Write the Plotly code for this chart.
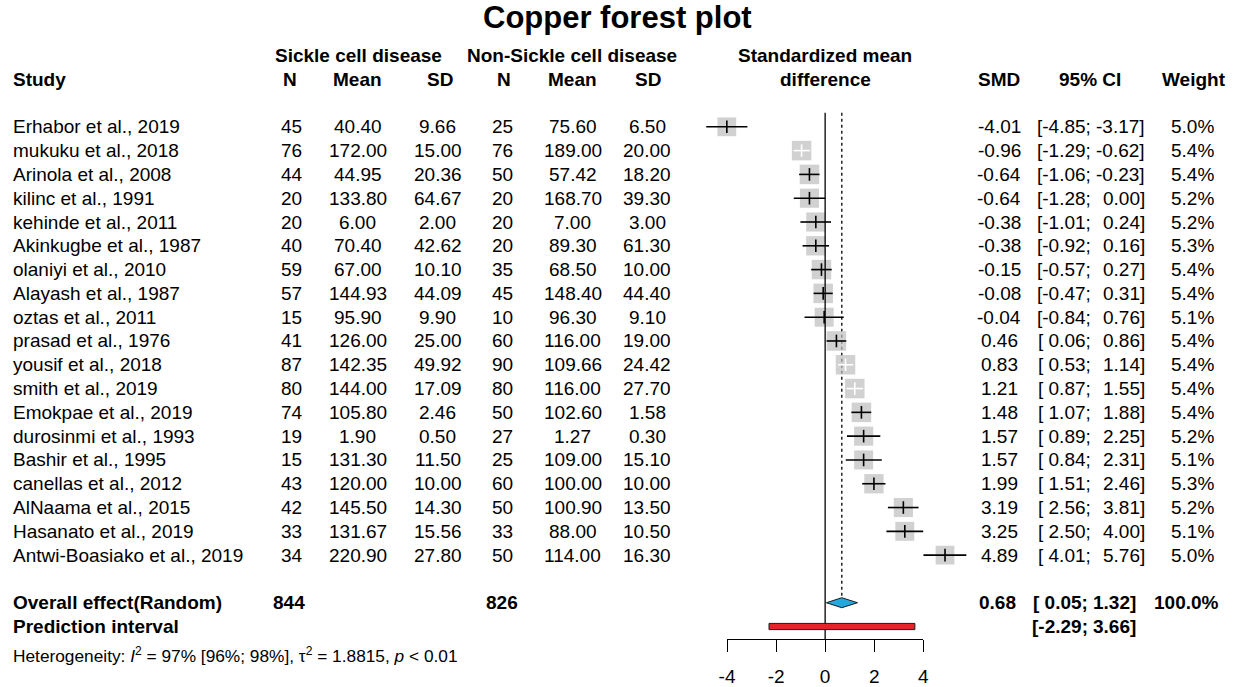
import plotly.graph_objects as go

# ---------------- data ----------------
studies = ["Erhabor et al., 2019", "mukuku et al., 2018", "Arinola et al., 2008", "kilinc et al., 1991",
           "kehinde et al., 2011", "Akinkugbe et al., 1987", "olaniyi et al., 2010", "Alayash et al., 1987",
           "oztas et al., 2011", "prasad et al., 1976", "yousif et al., 2018", "smith et al., 2019",
           "Emokpae et al., 2019", "durosinmi et al., 1993", "Bashir et al., 1995", "canellas et al., 2012",
           "AlNaama et al., 2015", "Hasanato et al., 2019", "Antwi-Boasiako et al., 2019"]
n_scd = [45, 76, 44, 20, 20, 40, 59, 57, 15, 41, 87, 80, 74, 19, 15, 43, 42, 33, 34]
mean_scd = [40.40, 172.00, 44.95, 133.80, 6.00, 70.40, 67.00, 144.93, 95.90, 126.00, 142.35, 144.00,
            105.80, 1.90, 131.30, 120.00, 145.50, 131.67, 220.90]
sd_scd = [9.66, 15.00, 20.36, 64.67, 2.00, 42.62, 10.10, 44.09, 9.90, 25.00, 49.92, 17.09, 2.46, 0.50,
          11.50, 10.00, 14.30, 15.56, 27.80]
n_ctl = [25, 76, 50, 20, 20, 20, 35, 45, 10, 60, 90, 80, 50, 27, 25, 60, 50, 33, 50]
mean_ctl = [75.60, 189.00, 57.42, 168.70, 7.00, 89.30, 68.50, 148.40, 96.30, 116.00, 109.66, 116.00,
            102.60, 1.27, 109.00, 100.00, 100.90, 88.00, 114.00]
sd_ctl = [6.50, 20.00, 18.20, 39.30, 3.00, 61.30, 10.00, 44.40, 9.10, 19.00, 24.42, 27.70, 1.58, 0.30,
          15.10, 10.00, 13.50, 10.50, 16.30]
smd = [-4.01, -0.96, -0.64, -0.64, -0.38, -0.38, -0.15, -0.08, -0.04, 0.46, 0.83, 1.21, 1.48, 1.57, 1.57,
       1.99, 3.19, 3.25, 4.89]
ci_low = [-4.85, -1.29, -1.06, -1.28, -1.01, -0.92, -0.57, -0.47, -0.84, 0.06, 0.53, 0.87, 1.07, 0.89,
          0.84, 1.51, 2.56, 2.50, 4.01]
ci_high = [-3.17, -0.62, -0.23, 0.00, 0.24, 0.16, 0.27, 0.31, 0.76, 0.86, 1.14, 1.55, 1.88, 2.25, 2.31,
           2.46, 3.81, 4.00, 5.76]
weight = [5.0, 5.4, 5.4, 5.2, 5.2, 5.3, 5.4, 5.4, 5.1, 5.4, 5.4, 5.4, 5.4, 5.2, 5.1, 5.3, 5.2, 5.1, 5.0]

total_scd = 844
total_ctl = 826
overall_smd = 0.68
overall_low = 0.05
overall_high = 1.32
overall_weight = 100.0
pred_low = -2.29
pred_high = 3.66
axis_ticks = [-4, -2, 0, 2, 4]
axis_ticktext = ["-4", "-2", "0", "2", "4"]

# ---------------- layout constants ----------------
W, H = 1235, 687
FONT = "Liberation Sans, Arial, sans-serif"
FS = 19
SCALE_FIX = 0.988            # horizontal compensation observed in the rendered page
CX = W / 2.0
ZERO_PX = 824.0              # target pixel of SMD = 0
UNIT_PX = 24.5               # target pixels per SMD unit
ROW0_PX = 127.0              # pixel position of first study row
ROW_PX = 23.83               # row spacing in pixels
LEFT_PX = 11                 # left edge of the study column


def px(t):
    """target pixel -> layout pixel"""
    return CX + (t - CX) / SCALE_FIX


def px2paper(t):
    return px(t) / W


X0 = px(ZERO_PX)
UNIT = UNIT_PX / SCALE_FIX

n = len(studies)
rows = list(range(n))
row_overall = n + 1
row_pred = n + 2
row_het = n + 3.2
row_sub = -2
row_grp = -3
row_title = -4.6
row_axis = (640 - ROW0_PX) / ROW_PX


def fmt_num(v):
    return f"{v:.2f}"


fig = go.Figure()

# dotted line at the pooled estimate
top_ref = -0.59
diam_h = 0.21
fig.add_trace(go.Scatter(x=[overall_smd, overall_smd], y=[top_ref, row_overall - diam_h], mode="lines",
                         line=dict(color="black", width=1.3, dash="dot"), hoverinfo="skip", showlegend=False))

# boxes
box_sizes = [19.5 * (w / 5.4) ** 0.5 for w in weight]
fig.add_trace(go.Scatter(x=smd, y=rows, mode="markers",
                         marker=dict(symbol="square", size=box_sizes, color="#BEBEBE", line=dict(width=0)),
                         hoverinfo="skip", showlegend=False))

# line of no effect
fig.add_trace(go.Scatter(x=[0, 0], y=[top_ref, row_axis], mode="lines",
                         line=dict(color="black", width=1.3), hoverinfo="skip", showlegend=False))

# CI lines (white when the interval fits inside its box)
inside = [(h - l) * UNIT_PX < 0.95 * s for l, h, s in zip(ci_low, ci_high, box_sizes)]
for flag, col in [(False, "black"), (True, "white")]:
    xs, ys = [], []
    for i in rows:
        if inside[i] == flag:
            xs += [ci_low[i], ci_high[i], None]
            ys += [i, i, None]
    fig.add_trace(go.Scatter(x=xs, y=ys, mode="lines", line=dict(color=col, width=1.6),
                             hoverinfo="skip", showlegend=False))
    fig.add_trace(go.Scatter(x=[smd[i] for i in rows if inside[i] == flag],
                             y=[i for i in rows if inside[i] == flag], mode="markers",
                             marker=dict(symbol="line-ns", size=9, line=dict(color=col, width=1.6)),
                             hoverinfo="skip", showlegend=False))

# overall diamond
fig.add_trace(go.Scatter(x=[overall_low, overall_smd, overall_high, overall_smd, overall_low],
                         y=[row_overall, row_overall - diam_h, row_overall, row_overall + diam_h, row_overall],
                         mode="lines", fill="toself", fillcolor="#23A9DE",
                         line=dict(color="#1a1a1a", width=1), hoverinfo="skip", showlegend=False))

# prediction interval bar
ph = 0.13
fig.add_trace(go.Scatter(x=[pred_low, pred_high, pred_high, pred_low, pred_low],
                         y=[row_pred - ph, row_pred - ph, row_pred + ph, row_pred + ph, row_pred - ph],
                         mode="lines", fill="toself", fillcolor="#E8222B",
                         line=dict(color="#1a1a1a", width=1), hoverinfo="skip", showlegend=False))

# invisible trace that carries the tick axis
fig.add_trace(go.Scatter(x=[axis_ticks[0], axis_ticks[-1]], y=[row_axis, row_axis], xaxis="x2", yaxis="y",
                         mode="markers", marker=dict(opacity=0), hoverinfo="skip", showlegend=False))

# ---------------- text ----------------
ann = []


def txt(text, xpx, row, anchor, bold=False, size=FS):
    ann.append(dict(text=f"<b>{text}</b>" if bold else text, x=px2paper(xpx), xref="paper",
                    y=row, yref="y", xanchor=anchor, yanchor="middle", showarrow=False,
                    borderpad=0, font=dict(size=size, family=FONT, color="black")))


def lower_txt(v):
    return ("[" if v < 0 else "[ ") + fmt_num(v) + ";"


# title
txt("Copper forest plot", 617, row_title, "center", bold=True, size=31)

# headers
txt("Sickle cell disease", 358, row_grp, "center", bold=True)
txt("Non-Sickle cell disease", 571, row_grp, "center", bold=True)
txt("Standardized mean", ZERO_PX, row_grp, "center", bold=True)
txt("difference", ZERO_PX, row_sub, "center", bold=True)
txt("Study", LEFT_PX, row_sub, "left", bold=True)
txt("N", 289, row_sub, "center", bold=True)
txt("Mean", 357, row_sub, "center", bold=True)
txt("SD", 439, row_sub, "center", bold=True)
txt("N", 503, row_sub, "center", bold=True)
txt("Mean", 572, row_sub, "center", bold=True)
txt("SD", 647, row_sub, "center", bold=True)
txt("SMD", 998, row_sub, "center", bold=True)
txt("95% CI", 1089, row_sub, "center", bold=True)
txt("Weight", 1193, row_sub, "center", bold=True)

# study rows
for i in rows:
    txt(studies[i], LEFT_PX, i, "left")
    txt(str(n_scd[i]), 291, i, "center")
    txt(fmt_num(mean_scd[i]), 357, i, "center")
    txt(fmt_num(sd_scd[i]), 437, i, "center")
    txt(str(n_ctl[i]), 502, i, "center")
    txt(fmt_num(mean_ctl[i]), 572, i, "center")
    txt(fmt_num(sd_ctl[i]), 646, i, "center")
    txt(fmt_num(smd[i]), 998, i, "center")
    txt(lower_txt(ci_low[i]), 1091, i, "right")
    txt(fmt_num(ci_high[i]) + "]", 1145, i, "right")
    txt(f"{weight[i]:.1f}%", 1191, i, "center")

# overall & prediction
txt("Overall effect(Random)", LEFT_PX, row_overall, "left", bold=True)
txt(str(total_scd), 288, row_overall, "center", bold=True)
txt(str(total_ctl), 501, row_overall, "center", bold=True)
txt(fmt_num(overall_smd), 996, row_overall, "center", bold=True)
txt(lower_txt(overall_low), 1088, row_overall, "right", bold=True)
txt(fmt_num(overall_high) + "]", 1136, row_overall, "right", bold=True)
txt(f"{overall_weight:.1f}%", 1185, row_overall, "center", bold=True)

txt("Prediction interval", LEFT_PX, row_pred, "left", bold=True)
txt(lower_txt(pred_low), 1088, row_pred, "right", bold=True)
txt(fmt_num(pred_high) + "]", 1136, row_pred, "right", bold=True)

txt("Heterogeneity: <i>I</i><sup>2</sup> = 97% [96%; 98%], τ<sup>2</sup> = 1.8815, <i>p</i> &lt; 0.01",
    LEFT_PX, row_het, "left", size=17.3)

fig.update_layout(
    width=W, height=H, autosize=False,
    margin=dict(l=0, r=0, t=0, b=0, pad=0),
    paper_bgcolor="white", plot_bgcolor="rgba(0,0,0,0)",
    showlegend=False, hovermode=False,
    annotations=ann,
    xaxis=dict(domain=[0, 1], range=[-X0 / UNIT, (W - X0) / UNIT],
               visible=False, showgrid=False, zeroline=False, fixedrange=True),
    yaxis=dict(domain=[0, 1], range=[(H - ROW0_PX) / ROW_PX, -ROW0_PX / ROW_PX],
               visible=False, showgrid=False, zeroline=False, fixedrange=True),
    xaxis2=dict(domain=[px2paper(ZERO_PX + axis_ticks[0] * UNIT_PX),
                        px2paper(ZERO_PX + axis_ticks[-1] * UNIT_PX)],
                range=[axis_ticks[0], axis_ticks[-1]], anchor="free",
                position=(H - 640) / H, showline=True, linecolor="black", linewidth=1.3,
                ticks="outside", ticklen=12, tickwidth=1.3, tickcolor="black",
                tickvals=axis_ticks, ticktext=axis_ticktext, showgrid=False, zeroline=False,
                ticklabelstandoff=8,
                tickfont=dict(size=FS, family=FONT, color="black"), fixedrange=True),
)

fig.write_html("out.html", config={"displayModeBar": False, "responsive": False},
               post_script=("document.documentElement.style.overflow='hidden';"
                            "document.body.style.overflow='hidden';"
                            "document.body.style.margin='0';"))
